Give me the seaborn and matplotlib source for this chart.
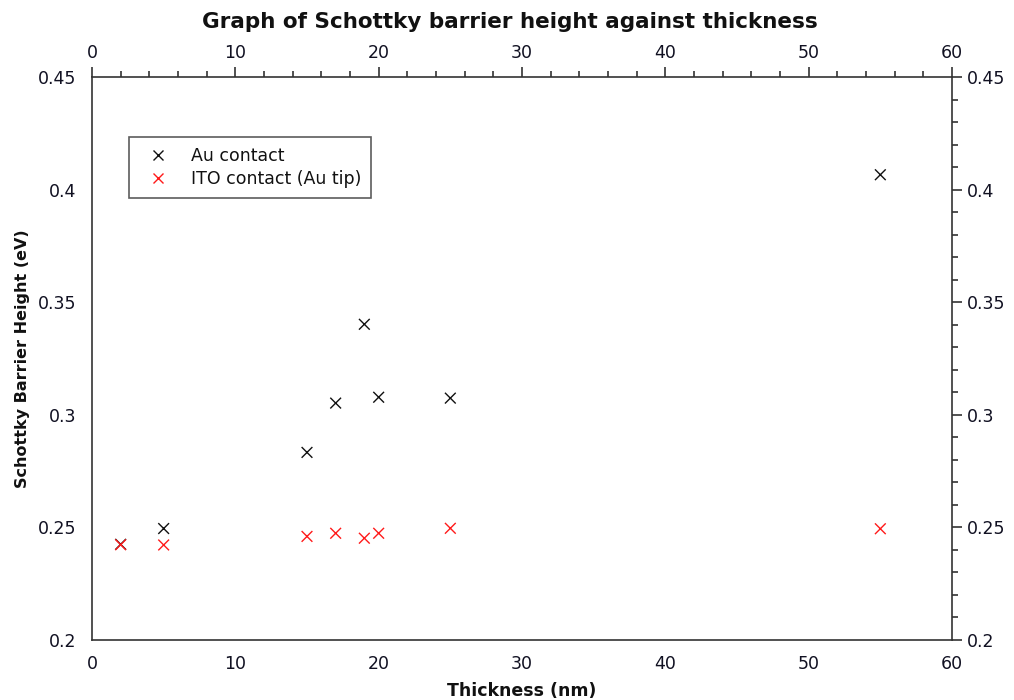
import numpy as np
import pandas as pd
import matplotlib
matplotlib.use("Agg")
import matplotlib.pyplot as plt
import seaborn as sns
from matplotlib.ticker import MultipleLocator

thickness_au = [2, 5, 15, 17, 19, 20, 25, 55]
barrier_au = [0.2425, 0.2495, 0.2833, 0.3052, 0.3402, 0.3078, 0.3074, 0.4066]
thickness_ito = [2, 5, 15, 17, 19, 20, 25, 55]
barrier_ito = [0.2423, 0.2422, 0.2460, 0.2474, 0.2452, 0.2474, 0.2496, 0.2494]
series_names = ["Au contact", "ITO contact (Au tip)"]
series_colors = ["#111111", "#ff1a1a"]

df = pd.DataFrame({
    "Thickness": thickness_au + thickness_ito,
    "Barrier": barrier_au + barrier_ito,
    "Series": [series_names[0]] * len(thickness_au) + [series_names[1]] * len(thickness_ito),
})

sns.set_style("white")
plt.rcParams["font.family"] = ["DejaVu Sans"]

fig = plt.figure(figsize=(10.14, 7.0), dpi=100)
ax = fig.add_axes([92 / 1014, 1 - 640 / 700, 860 / 1014, 563 / 700])

sns.scatterplot(data=df, x="Thickness", y="Barrier", hue="Series",
                palette=dict(zip(series_names, series_colors)),
                marker="x", s=60, linewidth=1.0, ax=ax, legend=True)

ax.set_xlim(0, 60)
ax.set_ylim(0.2, 0.45)
ax.xaxis.set_major_locator(MultipleLocator(10))
ax.xaxis.set_minor_locator(MultipleLocator(2))
ax.yaxis.set_major_locator(MultipleLocator(0.05))
ax.yaxis.set_minor_locator(MultipleLocator(0.01))
ax.yaxis.set_major_formatter(matplotlib.ticker.FuncFormatter(lambda v, p: f"{v:.2f}".rstrip("0").rstrip(".") if v else "0"))

ax.tick_params(axis="both", which="both", direction="out", colors="#333333",
               labelcolor="#111122", top=True, right=True, labeltop=True, labelright=True,
               labelsize=12.5)
ax.tick_params(which="major", length=7, width=1.2, pad=4)
ax.tick_params(which="minor", length=4, width=1.2)
for s in ax.spines.values():
    s.set_color("#333333")
    s.set_linewidth(1.2)

ax.set_xlabel("Thickness (nm)", fontsize=12.5, fontweight="bold", labelpad=6, color="#111111")
ax.set_ylabel("Schottky Barrier Height (eV)", fontsize=11.5, fontweight="bold", labelpad=6, color="#111111")
fig.text(0.503, 1 - 22 / 700, "Graph of Schottky barrier height against thickness",
         ha="center", va="center", fontsize=15.5, fontweight="bold", color="#111111")

leg = ax.legend(loc="upper left", bbox_to_anchor=(0.043, 0.893), frameon=True,
                fancybox=False, fontsize=12.5, edgecolor="#333333", borderpad=0.55,
                handletextpad=0.8, handlelength=2.2, borderaxespad=0, labelspacing=0.3)
leg.get_frame().set_linewidth(1.2)
for t in leg.get_texts():
    t.set_color("#111111")

fig.savefig("out.png", dpi=100, facecolor="white")
